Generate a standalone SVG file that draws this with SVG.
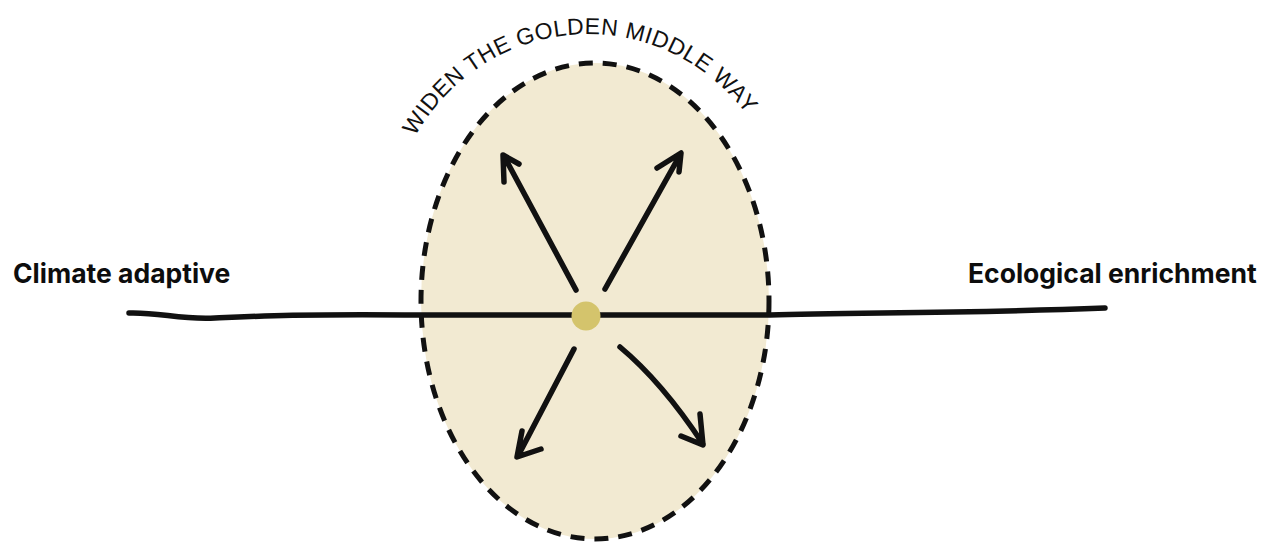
<svg xmlns="http://www.w3.org/2000/svg" width="1265" height="545" viewBox="0 0 1265 545">
<style>
.lbl{font-family:Inter,"Liberation Sans",sans-serif;font-weight:700;font-size:26.5px;fill:#0d0d0d}
.arc{font-family:"Liberation Sans",Arial,sans-serif;font-size:23px;fill:#111;letter-spacing:0.5px}
.ink{fill:none;stroke:#111;stroke-linecap:round;stroke-linejoin:round}
</style>
<defs>
<path id="arcPath" d="M 388,240 A 200 206 0 0 1 788,240"/>
</defs>
<rect width="1265" height="545" fill="#fff"/>
<g id="golden-middle">
<ellipse cx="595" cy="301" rx="174" ry="238" fill="#f2ead2" stroke="#111" stroke-width="5" stroke-dasharray="14 10"/>
</g>
<g id="axis">
<path class="ink" stroke-width="5.5" d="M 129,313 C 160,312 180,320 215,318 C 260,316 300,314 420,315 L 770,315 C 850,312 950,314 1105,308"/>
</g>
<g id="center-dot">
<circle cx="586" cy="316" r="14.5" fill="#d4c46c"/>
</g>
<g id="connectors">
<path class="ink" stroke-width="5.5" d="M 576,290 L 504,156 M 504,182 L 503,155 L 519,164"/>
<path class="ink" stroke-width="5.5" d="M 605,289 L 680,155 M 657,168 L 681,153 L 679,172"/>
<path class="ink" stroke-width="5.5" d="M 574,349 L 518,456 M 522,431 L 517,457 L 541,449"/>
<path class="ink" stroke-width="5.5" d="M 620,347 Q 662,382 703,444 M 681,436 L 703,445 L 700,414"/>
</g>
<g id="title">
<text class="arc"><textPath href="#arcPath" startOffset="108">WIDEN THE GOLDEN MIDDLE WAY</textPath></text>
</g>
<g id="label-left">
<text class="lbl" x="13" y="283">Climate adaptive</text>
</g>
<g id="label-right">
<text class="lbl" x="968" y="283">Ecological enrichment</text>
</g>
</svg>
